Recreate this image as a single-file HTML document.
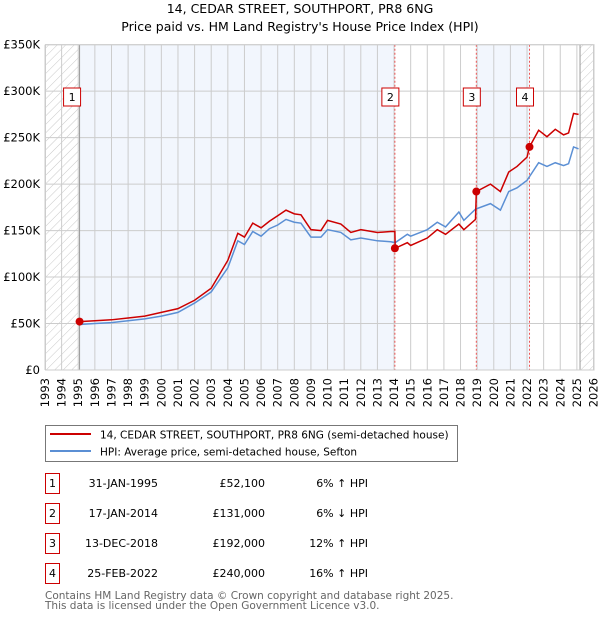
<!DOCTYPE html>
<html><head><meta charset="utf-8"><style>
body{margin:0;background:#fff;font-family:"Liberation Sans","DejaVu Sans",sans-serif;}
svg text{font-family:"DejaVu Sans","Liberation Sans",sans-serif;}
</style></head><body>
<svg id="chart" width="600" height="620" xmlns="http://www.w3.org/2000/svg">
<defs><pattern id="hatch" width="6" height="6" patternUnits="userSpaceOnUse" patternTransform="rotate(45)"><line x1="0" y1="0" x2="0" y2="6" stroke="#bbb" stroke-width="0.8"/></pattern></defs>
<text x="300" y="13" text-anchor="middle" font-size="12.5" fill="#000">14, CEDAR STREET, SOUTHPORT, PR8 6NG</text>
<text x="300" y="31" text-anchor="middle" font-size="12.5" fill="#000">Price paid vs. HM Land Registry's House Price Index (HPI)</text>
<g id="plot"></g>
<g>
<rect x="45.5" y="425.5" width="412" height="36" fill="#fff" stroke="#777"/>
<line x1="50" y1="434" x2="91" y2="434" stroke="#c00" stroke-width="2"/>
<text x="100" y="438.5" font-size="10.5">14, CEDAR STREET, SOUTHPORT, PR8 6NG (semi-detached house)</text>
<line x1="50" y1="451" x2="91" y2="451" stroke="#5b8fd4" stroke-width="2"/>
<text x="100" y="455.5" font-size="10.5">HPI: Average price, semi-detached house, Sefton</text>
</g>
<g id="table" font-size="11"></g>
<text x="45" y="599" font-size="10.5" fill="#666">Contains HM Land Registry data © Crown copyright and database right 2025.</text>
<text x="45" y="609" font-size="10.5" fill="#666">This data is licensed under the Open Government Licence v3.0.</text>
</svg>
<script>
const NS="http://www.w3.org/2000/svg";
const yTicks=[0,50000,100000,150000,200000,250000,300000,350000];
const yTickLabels=["£0","£50K","£100K","£150K","£200K","£250K","£300K","£350K"];
const years=[1993,1994,1995,1996,1997,1998,1999,2000,2001,2002,2003,2004,2005,2006,2007,2008,2009,2010,2011,2012,2013,2014,2015,2016,2017,2018,2019,2020,2021,2022,2023,2024,2025,2026];
const hpiDates=[1995.08,1996,1997,1998,1999,2000,2001,2002,2003,2004,2004.6,2005,2005.5,2006,2006.5,2007,2007.5,2008,2008.4,2009,2009.6,2010,2010.8,2011.4,2012,2013,2013.8,2014.07,2014.8,2015,2016,2016.6,2017.1,2017.9,2018.2,2018.9,2019.8,2020.4,2020.9,2021.4,2022,2022.7,2023.2,2023.7,2024.2,2024.5,2024.8,2025.1];
const hpiValues=[49,50,51,53,55,58,62,72,84,110,139,135,149,144,152,156,162,159,158,143,143,151,148,140,142,139,138,137,146,144,151,159,154,170,161,173,179,172,192,196,204,223,219,223,220,222,240,238];
const paidDates=[1995.08,1996,1997,1998,1999,2000,2001,2002,2003,2004,2004.6,2005,2005.5,2006,2006.5,2007,2007.5,2008,2008.4,2009,2009.6,2010,2010.8,2011.4,2012,2013,2013.8,2014.05,2014.07,2014.8,2015,2016,2016.6,2017.1,2017.9,2018.2,2018.9,2018.95,2019.8,2020.4,2020.9,2021.4,2022,2022.15,2022.7,2023.2,2023.7,2024.2,2024.5,2024.8,2025.1];
const paidValues=[52.1,53,54,56,58,62,66,75,88,118,147,143,158,153,160,166,172,168,167,151,150,161,157,148,151,148,149,149,131,137,134,142,151,146,157,151,162,192,200,192,213,219,229,240,258,251,259,253,255,276,275];
const saleDates=[1995.08,2014.05,2018.95,2022.15];
const salePrices=[52100,131000,192000,240000];
const saleLabels=["1","2","3","4"];
const saleDateText=["31-JAN-1995","17-JAN-2014","13-DEC-2018","25-FEB-2022"];
const salePriceText=["£52,100","£131,000","£192,000","£240,000"];
const saleHpiText=["6% ↑ HPI","6% ↓ HPI","12% ↑ HPI","16% ↑ HPI"];
const X0=45,X1=593.5,Y0=370,Y1=44.7;
const x=t=>X0+(t-1993)/(2026-1993)*(X1-X0);
const y=v=>Y0-(v/350000)*(Y0-Y1);
const plot=document.getElementById('plot');
function mk(tag,attrs,parent){const e=document.createElementNS(NS,tag);for(const k in attrs)e.setAttribute(k,attrs[k]);(parent||plot).appendChild(e);return e;}
const bands=[[1995.08,2014.05,'#f2f6fd'],[2014.05,2018.95,'#fff'],[2018.95,2022.15,'#f2f6fd'],[2022.15,2025.19,'#fff']];
bands.forEach(b=>{const r=mk('rect',{x:x(b[0]),y:Y1,width:x(b[1])-x(b[0]),height:Y0-Y1,fill:b[2]});

});
const h1=mk('rect',{x:X0,y:Y1,width:x(1995.08)-X0,height:Y0-Y1,fill:'url(#hatch)'});


const h2=mk('rect',{x:x(2025.19),y:Y1,width:X1-x(2025.19),height:Y0-Y1,fill:'url(#hatch)'});


years.forEach(yr=>{const l=mk('line',{x1:x(yr),x2:x(yr),y1:Y1,y2:Y0,stroke:'#ccc','stroke-width':1});


const t=mk('text',{x:0,y:0,'font-size':11.5,'text-anchor':'end',transform:`translate(${x(yr)+4},${Y0+8}) rotate(-90)`});
t.textContent=yr;

});
yTicks.forEach((v,i)=>{const l=mk('line',{x1:X0,x2:X1,y1:y(v),y2:y(v),stroke:'#ccc','stroke-width':1});


const t=mk('text',{x:40,y:y(v)+4,'font-size':11.5,'text-anchor':'end'});
t.textContent=yTickLabels[i];

});
mk('line',{x1:x(1995.08),x2:x(1995.08),y1:Y1,y2:Y0,stroke:'#999'});
mk('line',{x1:x(2025.19),x2:x(2025.19),y1:Y1,y2:Y0,stroke:'#999'});
saleDates.slice(1).forEach(d=>{const l=mk('line',{x1:x(d),x2:x(d),y1:Y1,y2:Y0,stroke:'#e55','stroke-width':1,'stroke-dasharray':'2,2'});

});
const hp=mk('polyline',{points:hpiDates.map((d,i)=>x(d)+','+y(hpiValues[i]*1000)).join(' '),fill:'none',stroke:'#5b8fd4','stroke-width':1.5});


const pp=mk('polyline',{points:paidDates.map((d,i)=>x(d)+','+y(paidValues[i]*1000)).join(' '),fill:'none',stroke:'#c00','stroke-width':1.5});


saleDates.forEach((d,i)=>{const c=mk('circle',{cx:x(d),cy:y(salePrices[i]),r:4,fill:'#c00'});


const bx=x(d)-(i===0?3:0)-13;
const r=mk('rect',{x:bx,y:88,width:17,height:18,fill:'#fff',stroke:'#c00'});


const t=mk('text',{x:bx+8.5,y:101,'font-size':11,'text-anchor':'middle'});
t.textContent=saleLabels[i];

});
mk('rect',{x:X0+.5,y:Y1,width:X1-X0,height:Y0-Y1,fill:'none',stroke:'#ccc'});
const tb=document.getElementById('table');
const rowsY=[483,513,543,573];
saleLabels.forEach((s,i)=>{const g=mk('g',{},tb);


mk('rect',{x:45.5,y:rowsY[i]-9.5,width:14,height:20,fill:'#fff',stroke:'#c00'},g);
const a=mk('text',{x:52.5,y:rowsY[i]+4,'text-anchor':'middle'},g);a.textContent=s;
const b=mk('text',{x:158,y:rowsY[i]+4,'text-anchor':'end'},g);b.textContent=saleDateText[i];
const c=mk('text',{x:265,y:rowsY[i]+4,'text-anchor':'end'},g);c.textContent=salePriceText[i];
const e=mk('text',{x:368,y:rowsY[i]+4,'text-anchor':'end'},g);e.textContent=saleHpiText[i];});
</script>
</body></html>
